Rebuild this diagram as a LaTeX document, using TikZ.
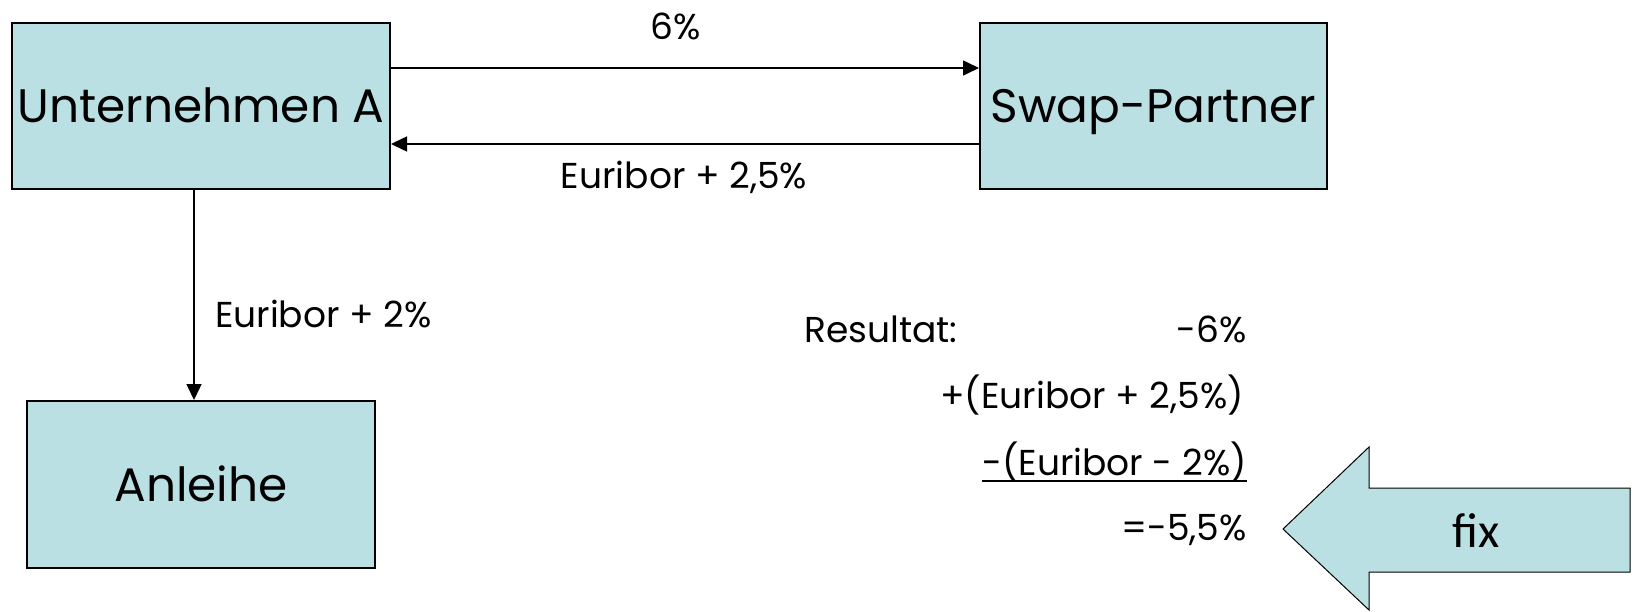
\documentclass[tikz,border=0pt]{standalone}
\usepackage{fontspec}
\setmainfont{Poppins}
\newfontfamily\calib{Carlito}
\usetikzlibrary{arrows.meta}
\definecolor{boxfill}{RGB}{187,224,227}
\begin{document}
\begin{tikzpicture}[x=1pt,y=-1pt,
  party/.style={draw=black, line width=2pt, fill=boxfill, inner sep=0pt,
    font=\fontsize{47}{56}\selectfont, text height=33pt, text depth=0pt},
  flow/.style={line width=1.5pt, -{Triangle[length=16pt,width=15pt]}},
  lbl/.style={font=\fontsize{36}{43}\selectfont, inner sep=0pt, anchor=base},
]
\useasboundingbox (0,0) rectangle (1636,611);

% parties
\node[party, minimum width=378pt, minimum height=166pt] (A) at (201,106) {Unternehmen A};
\node[party, minimum width=347pt, minimum height=166pt] (S) at (1153.5,106) {Swap-Partner};
\node[party, minimum width=348pt, minimum height=167pt] (B) at (201,484.5) {Anleihe};

% payment flows
\draw[flow] ([yshift=38pt]A.east) -- ([yshift=38pt]S.west);
\draw[flow] ([yshift=-38pt]S.west) -- ([yshift=-38pt]A.east);
\draw[flow] ([xshift=-7pt]A.south) -- ([xshift=-7pt]A.south |- B.north);

\node[lbl] (l1) at (676,39) {6\%};
\node[lbl] (l2) at (684,188) {Euribor + 2,5\%};
\node[lbl, anchor=base west] (l3) at (215,327) {Euribor + 2\%};

% result calculation
\node[lbl, anchor=base west] (r0) at (804,342) {Resultat:};
\node[lbl, anchor=base east] (r1) at (1247,342) {-6\%};
\node[lbl, anchor=base east] (r2) at (1244,408) {+(Euribor + 2,5\%)};
\node[lbl, anchor=base east] (r3) at (1247,475) {-(Euribor - 2\%)};
\node[lbl, anchor=base east] (r4) at (1247,540) {=-5,5\%};
\draw[line width=1.5pt] ([yshift=-6pt]r3.base west) -- ([yshift=-6pt]r3.base east);

% block arrow
\draw[line width=1pt, fill=boxfill] (1283,529) -- (1369,447) -- (1369,488) -- (1630,488)
  -- (1630,572) -- (1369,572) -- (1369,610) -- cycle;
\node[font=\calib\fontsize{49}{58}\selectfont, anchor=base, inner sep=0pt] (fx) at (1476,547) {fix};
\end{tikzpicture}
\end{document}
